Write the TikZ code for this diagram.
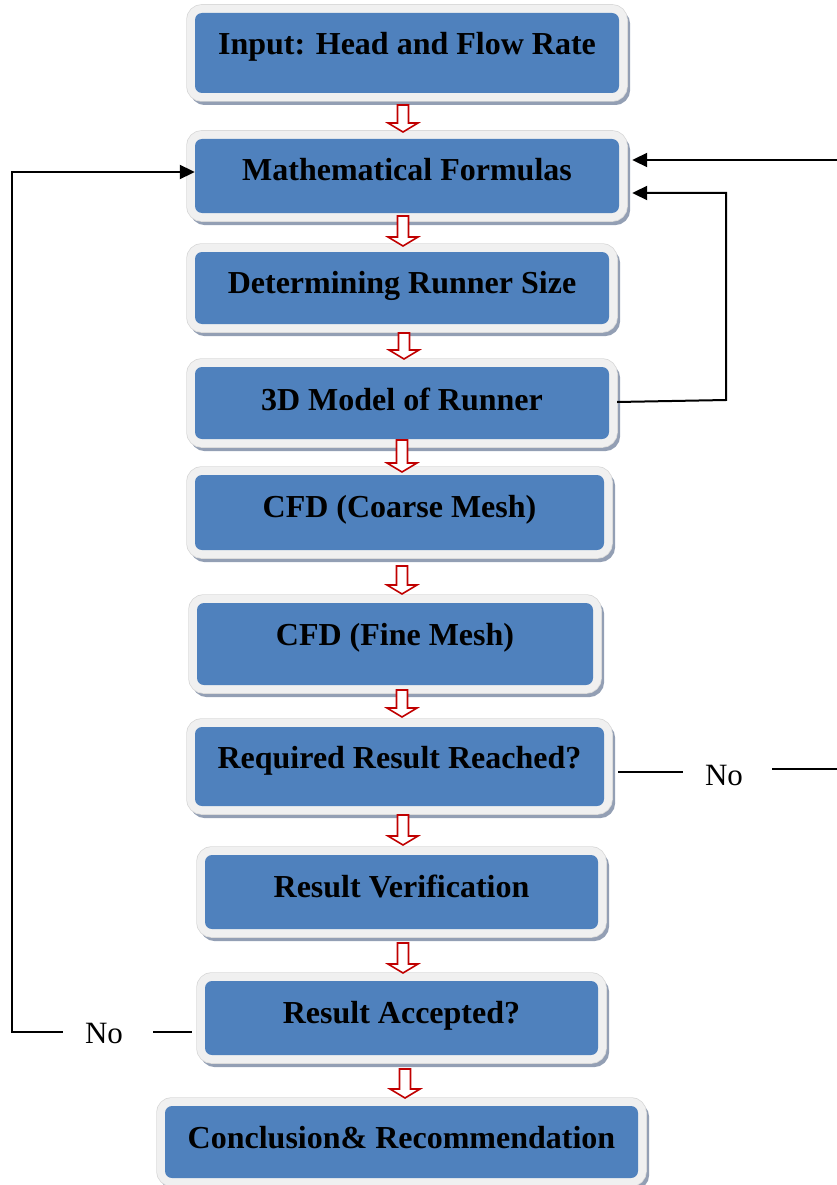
\documentclass[tikz,border=0pt]{standalone}
\usepackage{fontspec}
\setmainfont{Liberation Serif}
\usetikzlibrary{arrows.meta,calc}
\definecolor{boxblue}{HTML}{4F81BD}
\definecolor{borderc}{HTML}{F0F0F0}
\definecolor{edgec}{HTML}{D8D8D8}
\definecolor{shadowc}{HTML}{939FB4}
\definecolor{arrred}{HTML}{C00000}
\newcommand\blockarr[3]{%
  \draw[redarrow, shift={(#1,#2)}] (-5.5,0) -- (5.5,0) -- (5.5,#3-9) -- (15,#3-9) -- (0,#3) -- (-15,#3-9) -- (-5.5,#3-9) -- cycle;}
\begin{document}
\begin{tikzpicture}[x=1pt,y=-1pt,
  box/.style={rectangle, rounded corners=7pt, fill=boxblue, inner xsep=0pt, inner ysep=0pt,
    text height=22pt, font=\fontsize{32}{38}\selectfont\bfseries,
    preaction={draw=shadowc, line width=16pt, transform canvas={shift={(3pt,-4pt)}}},
    preaction={draw=edgec, line width=17.5pt},
    preaction={draw=borderc, line width=16pt}},
  nolabel/.style={inner sep=0pt, anchor=base, font=\fontsize{31}{37}\selectfont},
  redarrow/.style={draw=arrred, fill=white, line width=1.6pt, line join=miter},
  conn/.style={draw=black, line width=2pt},
  tip/.style={-{Triangle[length=15pt,width=14pt]}}]
\useasboundingbox (0,0) rectangle (837,1185);

\node[box, minimum width=424pt, minimum height=80pt, text depth=18pt] (b1) at (407,53) {Input: Head and Flow Rate};
\node[box, minimum width=424pt, minimum height=74pt, text depth=12pt] (b2) at (407,176) {Mathematical Formulas};
\node[box, minimum width=414pt, minimum height=72pt, text depth=12pt] (b3) at (402,288) {Determining Runner Size};
\node[box, minimum width=414pt, minimum height=72pt, text depth=8pt] (b4) at (402,403) {3D Model of Runner};
\node[box, minimum width=409pt, minimum height=75pt, text depth=13pt] (b5) at (399.5,512.5) {CFD (Coarse Mesh)};
\node[box, minimum width=396pt, minimum height=82pt, text depth=20pt] (b6) at (395,644) {CFD (Fine Mesh)};
\node[box, minimum width=409pt, minimum height=79pt, text depth=19pt] (b7) at (399.5,766.5) {Required Result Reached?};
\node[box, minimum width=393pt, minimum height=74pt, text depth=12pt] (b8) at (401.5,892) {Result Verification};
\node[box, minimum width=393pt, minimum height=74pt, text depth=12pt] (b9) at (401.5,1018) {Result Accepted?};
\node[box, minimum width=473pt, minimum height=72pt, text depth=10pt] (b10) at (401.5,1142) {Conclusion\& Recommendation};

% red block arrows
\blockarr{403}{105}{27}
\blockarr{403}{216}{30}
\blockarr{404}{333}{26}
\blockarr{402}{440}{32}
\blockarr{402}{566}{28}
\blockarr{402}{690}{27}
\blockarr{403}{815}{30}
\blockarr{403}{943}{30}
\blockarr{405}{1069}{29}

% left loop (Result Accepted? -> No -> Mathematical Formulas)
\node[nolabel] (noL) at (104,1043) {No};
\coordinate (lstart) at ([xshift=-13pt,yshift=-14pt]b9.west);
\coordinate (lx) at (12,1032);
\coordinate (lin) at ([yshift=4pt]b2.west);
\draw[conn] (lstart) -- ([xshift=30pt]noL.east |- lstart);
\draw[conn, tip] ([xshift=-22pt]noL.west |- lstart) -- (lx) -- (lx |- lin) -- (lin);

% right side (Required Result Reached? -> No -> off picture)
\node[nolabel] (noR) at (724,785) {No};
\coordinate (rstart) at ([xshift=14pt,yshift=-5.5pt]b7.east);
\coordinate (redge) at (837,769);
\draw[conn] (rstart) -- ([xshift=-22pt]noR.west |- rstart);
\draw[conn] ([xshift=29pt]noR.east |- redge) -- (redge);

% arrows into Mathematical Formulas from the right
\coordinate (rtop) at (837,160);
\draw[conn, tip] (rtop) -- ([xshift=13pt,yshift=16pt]b2.east);
\coordinate (b4out) at ([xshift=8pt,yshift=1pt]b4.east);
\coordinate (rx) at (726,400);
\draw[conn, tip] (b4out) -- (rx) -- (rx |- 0,193) -- ([xshift=13pt,yshift=-17pt]b2.east);
\end{tikzpicture}
\end{document}
